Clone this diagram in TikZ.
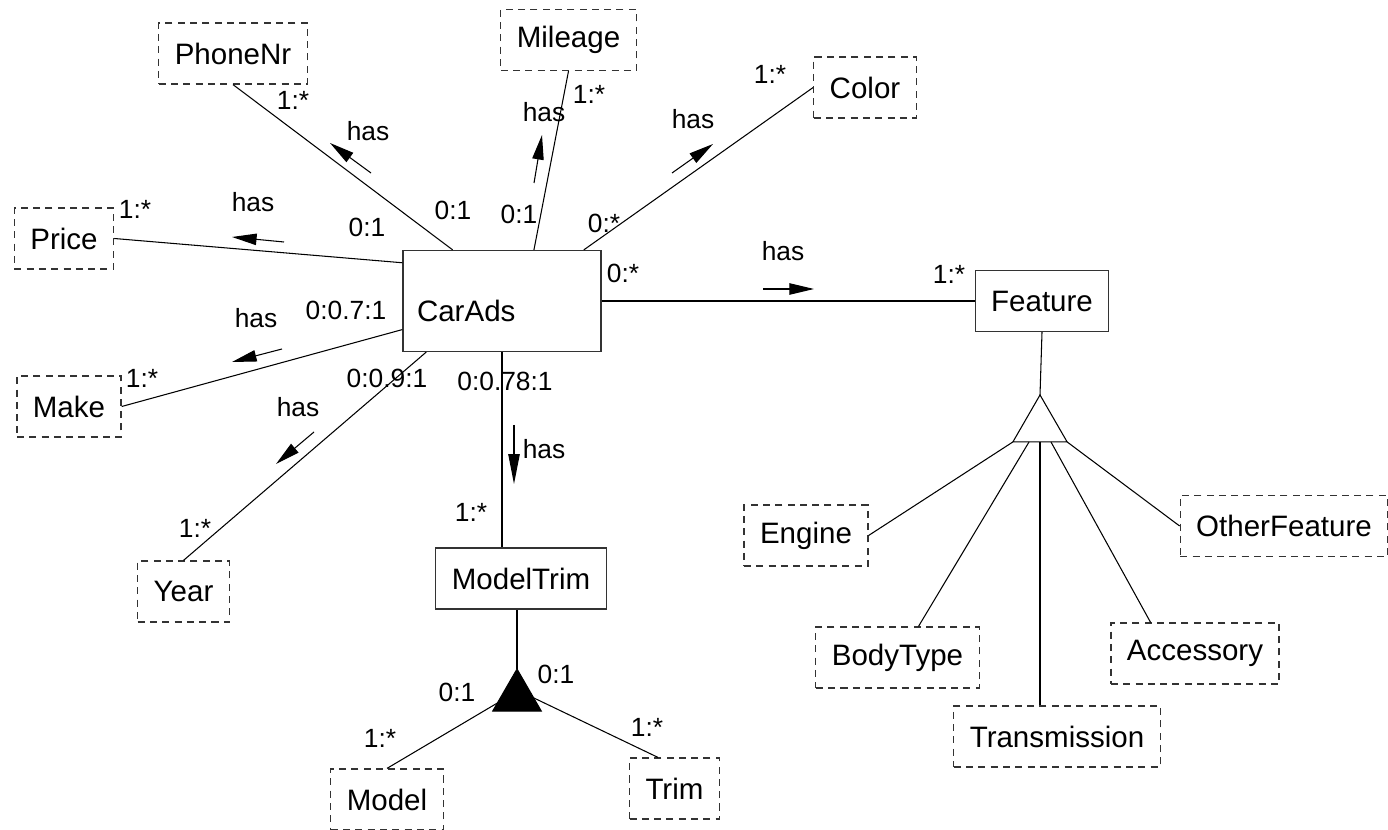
\documentclass[tikz,border=0pt]{standalone}
\usepackage{fontspec}
\setmainfont{Liberation Sans}
\usetikzlibrary{shapes.geometric,arrows.meta}

\begin{document}
\begin{tikzpicture}[x=0.02cm, y=-0.02cm]

\tikzstyle{every node} = [inner sep=0pt, font=\fontsize{15}{18}\selectfont]
\tikzstyle{entity} = [rectangle, draw=black!80, line width=0.7pt, inner xsep=0.32cm, minimum height=1.22cm, font=\fontsize{16.8}{20}\selectfont]
\tikzstyle{attr} = [entity, dash pattern=on 4pt off 3pt]
\tikzstyle{gen} = [regular polygon, regular polygon sides=3, draw, line width=0.6pt, outer sep=0pt]
\tikzstyle{link} = [line width=0.6pt]
\tikzstyle{hasarrow} = [-{Triangle[length=14pt, width=6.5pt]}, line width=0.6pt]

\useasboundingbox (0,0) rectangle (1388,830);

\node[attr] (phonenr) at (233,53.5) {PhoneNr};
\node[attr] (mileage) at (568.5,40) {Mileage};
\node[attr] (color) at (865,87.5) {Color};
\node[attr] (price) at (64,238.5) {Price};
\node[attr] (make) at (69,406.5) {Make};
\node[attr] (year) at (183.5,591.5) {Year};

\node[entity, inner xsep=0.28cm, minimum width=3.96cm, minimum height=2.02cm,
  text width=3.4cm, align=left, text height=23pt, text depth=0pt] (carads) at (502,301) {CarAds};
\node[entity] (feature) at (1042,301) {Feature};
\node[entity] (modeltrim) at (521,578.5) {ModelTrim};

\node[gen, fill=black, minimum size=1.12cm] (mtri) at (517,697) {};
\node[attr] (model) at (387,799.5) {Model};
\node[attr] (trim) at (674.5,788.5) {Trim};

\node[gen, minimum size=1.254cm] (ftri) at (1040,426.3) {};
\node[attr] (engine) at (806,535.5) {Engine};
\node[attr] (bodytype) at (897.5,657.5) {BodyType};
\node[attr] (transmission) at (1057,736.5) {Transmission};
\node[attr] (accessory) at (1195,653.5) {Accessory};
\node[attr] (otherfeature) at (1284,526) {OtherFeature};

% cardinalities and roles
\node (c1) at (293,100) {1:*};
\node (h1) at (368,131) {has};
\node (c2) at (453,210) {0:1};
\node (c3) at (135,209) {1:*};
\node (h2) at (253,202) {has};
\node (c4) at (367,227) {0:1};
\node (c5) at (589,94) {1:*};
\node (h3) at (544,112) {has};
\node (c6) at (519,214) {0:1};
\node (c7) at (770,74) {1:*};
\node (h4) at (693,119) {has};
\node (c8) at (604,223) {0:*};
\node (c9) at (623,273) {0:*};
\node (h5) at (783,251) {has};
\node (c10) at (949,274) {1:*};
\node (c11) at (346,310) {0:0.7:1};
\node (h6) at (256,318) {has};
\node (c12) at (142,378) {1:*};
\node (c13) at (387,378) {0:0.9:1};
\node (h7) at (298,407) {has};
\node (c14) at (195,528) {1:*};
\node (c15) at (505,381) {0:0.78:1};
\node (h8) at (544,449) {has};
\node (c16) at (471,512) {1:*};
\node (c17) at (457,692) {0:1};
\node (c18) at (556,674) {0:1};
\node (c19) at (380,738) {1:*};
\node (c20) at (647,727) {1:*};

\draw[link] (phonenr.south) -- (carads.134);
\draw[link] (mileage.south) -- (carads.58);
\draw[link] (color.west) -- (carads.32);
\draw[link] (price.east) -- (carads.159.5);
\draw[link] (make.east) -- (carads.196);
\draw[link] (year.north) -- (carads.214);
\draw[link] (carads.east) -- (feature.west);
\draw[link] (carads.south) -- (carads.south |- modeltrim.north);

\draw[link] (mtri.corner 1) -- (mtri.corner 1 |- modeltrim.south);
\draw[link] (mtri.197) -- (model.north);
\draw[link] (mtri.357) -- (trim.118);

\draw[link] (feature.south) -- (ftri.corner 1);
\draw[link] (ftri.corner 2) -- (engine.east);
\draw[link] (ftri.235) -- (bodytype.56);
\draw[link] (ftri.south) -- (ftri.south |- transmission.north);
\draw[link] (ftri.305) -- (accessory.145);
\draw[link] (ftri.corner 3) -- (otherfeature.west);

% direction of has
\draw[hasarrow] (371,173) -- (330,143);
\draw[hasarrow] (284,242) -- (232,237);
\draw[hasarrow] (534,183) -- (542,135);
\draw[hasarrow] (672,173) -- (713,144);
\draw[hasarrow] (763,289) -- (814,289);
\draw[hasarrow] (282,349) -- (232,362);
\draw[hasarrow] (314,432) -- (276,464);
\draw[hasarrow, -{Triangle[length=17pt, width=6.5pt]}] (514,425) -- (514,484);

\end{tikzpicture}
\end{document}
